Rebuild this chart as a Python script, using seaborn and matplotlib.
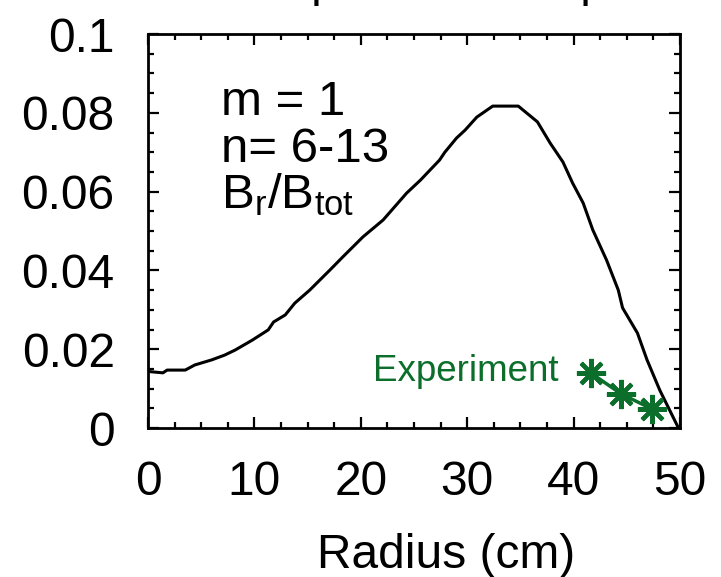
import matplotlib
matplotlib.use("Agg")
import matplotlib.pyplot as plt
import seaborn as sns
from matplotlib.ticker import MultipleLocator, FixedLocator, FixedFormatter

# ---- data ----
radius_cm = [0.0, 0.2, 1.4, 1.8, 3.5, 4.4, 6.0, 7.2, 8.2, 9.8, 11.3, 11.8, 12.9,
             13.8, 15.2, 17.1, 18.3, 20.2, 22.1, 24.3, 25.6, 27.4, 27.9, 29.0,
             29.8, 30.9, 32.4, 34.8, 36.6, 37.8, 39.0, 39.9, 40.9, 41.8, 43.1,
             44.2, 44.6, 46.0, 46.9, 48.1, 49.8, 50.0]
br_btot = [0.0145, 0.0143, 0.0140, 0.0147, 0.0147, 0.0160, 0.0173, 0.0185,
           0.0198, 0.0223, 0.0249, 0.0269, 0.0287, 0.0317, 0.0350, 0.0401,
           0.0434, 0.0485, 0.0528, 0.0596, 0.0629, 0.0680, 0.0700, 0.0736,
           0.0756, 0.0789, 0.0817, 0.0817, 0.0777, 0.0723, 0.0675, 0.0622,
           0.0571, 0.0503, 0.0426, 0.0350, 0.0305, 0.0241, 0.0173, 0.0096,
           0.0003, 0.0]
exp_radius = [41.6, 44.5, 47.4]
exp_br = [0.0140, 0.0086, 0.0048]

x_ticks = [0, 10, 20, 30, 40, 50]
x_tick_labels = ["0", "10", "20", "30", "40", "50"]
y_ticks = [0, 0.02, 0.04, 0.06, 0.08, 0.1]
y_tick_labels = ["0", "0.02", "0.04", "0.06", "0.08", "0.1"]
annot_lines = ["m = 1", "n= 6-13", r"$\mathregular{B_r/B_{tot}}$"]
title_text = "Radial perturbation profile"
x_label = "Radius (cm)"
exp_label = "Experiment"

sns.set_theme(style="white")
plt.rcParams["font.family"] = ["Liberation Sans", "DejaVu Sans"]
plt.rcParams["text.color"] = "black"
plt.rcParams["axes.labelcolor"] = "black"
plt.rcParams["xtick.color"] = "black"
plt.rcParams["ytick.color"] = "black"

green = "#0b6e2b"

fig = plt.figure(figsize=(7.21, 5.77), dpi=100)
ax = fig.add_axes([148 / 721, 1 - 428 / 577, 532 / 721, 394 / 577])

sns.lineplot(x=radius_cm, y=br_btot, ax=ax, color="black", lw=2.2,
             sort=False, estimator=None)
sns.lineplot(x=exp_radius, y=exp_br, ax=ax, color=green, lw=2.5,
             marker=(8, 2, 0), markersize=21, markeredgewidth=3,
             markeredgecolor=green, sort=False, estimator=None)

ax.set_xlim(0, 50)
ax.set_ylim(0, 0.1)
ax.xaxis.set_major_locator(FixedLocator(x_ticks))
ax.xaxis.set_major_formatter(FixedFormatter(x_tick_labels))
ax.yaxis.set_major_locator(FixedLocator(y_ticks))
ax.yaxis.set_major_formatter(FixedFormatter(y_tick_labels))
ax.xaxis.set_minor_locator(MultipleLocator(2.5))
ax.yaxis.set_minor_locator(MultipleLocator(0.005))

for s in ax.spines.values():
    s.set_visible(True)
    s.set_color("black")
    s.set_linewidth(2)

ax.tick_params(which="both", direction="in", top=True, right=True,
               bottom=True, left=True, color="black", labelcolor="black",
               width=1.6)
ax.tick_params(which="major", length=8, labelsize=34.5, pad=24)
ax.tick_params(which="minor", length=4)
ax.tick_params(axis="x", which="major", pad=23)

ax.set_xlabel(x_label, fontsize=34.5, labelpad=20, color="black")
ax.xaxis.label.set_x((446 - 148) / 532)
ax.set_ylabel("")

ys = [0.0794, 0.0675, 0.0558]
for t, yv in zip(annot_lines, ys):
    ax.text(6.9, yv, t, fontsize=35.5, ha="left", va="baseline", color="black")

ax.text(21.1, 0.0119, exp_label, fontsize=26.5, color=green,
        ha="left", va="baseline")

fig.text(162 / 721, 1 + 4 / 577, title_text, fontsize=34.5, ha="left",
         va="baseline", color="black")

fig.savefig("out.png", dpi=100)
